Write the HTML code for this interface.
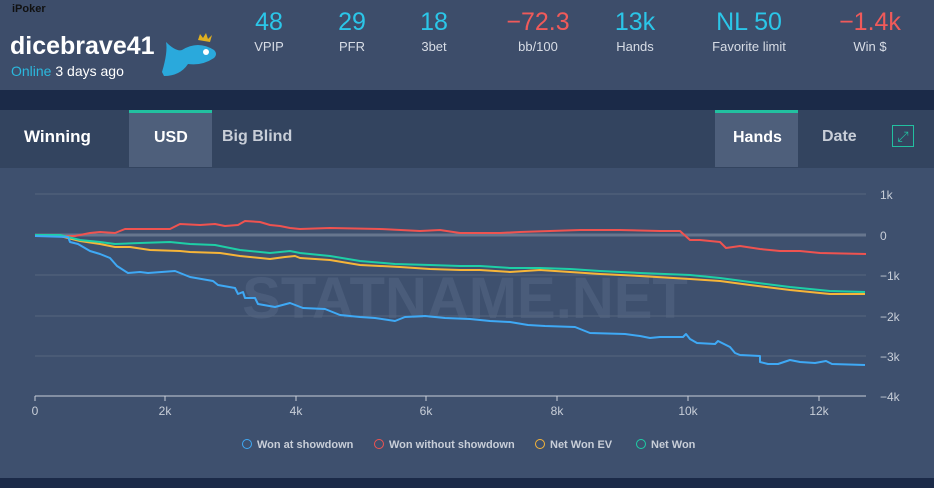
<!DOCTYPE html><html><head><style>
body{margin:0;width:934px;height:488px;overflow:hidden;background:#1b2a48;font-family:"Liberation Sans",sans-serif}
.hd{position:absolute;left:0;top:0;width:934px;height:90px;background:#3d4d6a}
.tb{position:absolute;left:0;top:110px;width:934px;height:58px;background:#33445f}
.ch{position:absolute;left:0;top:168px;width:934px;height:310px;background:#3e506e}
.st{position:absolute;top:8px;width:120px;margin-left:-60px;text-align:center}
.st .v{font-size:25px;color:#2bc6e8}
.st .l{font-size:13px;color:#d8dde6;margin-top:2px}
.r .v{color:#f05a5a}
.t{position:absolute;font-size:17px;font-weight:bold;color:#c8ced8}
</style></head><body>
<div class="hd">
<div style="position:absolute;left:12px;top:3px;font-size:11px;font-weight:bold;color:#111">iPoker</div>
<div style="position:absolute;left:10px;top:32px;font-size:25px;font-weight:bold;color:#fff">dicebrave41</div>
<div style="position:absolute;left:11px;top:63px;font-size:14px;color:#fff"><span style="color:#2bb8dd">Online</span> 3 days ago</div>
<svg style="position:absolute;left:158px;top:32px" width="66" height="48"><path d="M4 40 Q10 20 8 10 Q18 20 24 18 Q40 8 56 18 Q60 22 56 26 Q44 34 30 32 Q22 44 6 44Z" fill="#2aa9dc"/><circle cx="48" cy="20" r="3" fill="#fff"/><path d="M40 8 L42 2 L45 6 L48 1 L50 7 L54 3 L52 10Z" fill="#e0b020"/></svg>
<div class="st" style="left:269px"><div class="v">48</div><div class="l">VPIP</div></div>
<div class="st" style="left:352px"><div class="v">29</div><div class="l">PFR</div></div>
<div class="st" style="left:434px"><div class="v">18</div><div class="l">3bet</div></div>
<div class="st r" style="left:538px"><div class="v">−72.3</div><div class="l">bb/100</div></div>
<div class="st" style="left:635px"><div class="v">13k</div><div class="l">Hands</div></div>
<div class="st" style="left:749px"><div class="v">NL 50</div><div class="l">Favorite limit</div></div>
<div class="st r" style="left:870px"><div class="v">−1.4k</div><div class="l">Win $</div></div>
</div>
<div class="tb">
<div class="t" style="left:24px;top:17px;color:#fff">Winning</div>
<div style="position:absolute;left:129px;top:0;width:83px;height:57px;background:#4e5f7b;border-top:3px solid #22c0a0;box-sizing:border-box"></div>
<div class="t" style="left:154px;top:19px;color:#fff;font-size:16px">USD</div>
<div class="t" style="left:222px;top:18px;font-size:16px">Big Blind</div>
<div style="position:absolute;left:715px;top:0;width:83px;height:57px;background:#4e5f7b;border-top:3px solid #22c0a0;box-sizing:border-box"></div>
<div class="t" style="left:733px;top:19px;color:#fff;font-size:16px">Hands</div>
<div class="t" style="left:822px;top:18px;font-size:16px">Date</div>
<div style="position:absolute;left:892px;top:15px;width:22px;height:22px;border:1px solid #22c0a0;box-sizing:border-box;color:#22c0a0;font-size:14px;text-align:center;line-height:20px">⤢</div>
</div>
<div class="ch"></div>
<svg style="position:absolute;left:0;top:0" width="934" height="488" font-family="Liberation Sans, sans-serif">
<text x="465" y="318" text-anchor="middle" font-size="58" font-weight="bold" fill="#4a5c7a">STATNAME.NET</text>
<g stroke="#56667f" stroke-width="1"><line x1="35" x2="866" y1="194" y2="194"/><line x1="35" x2="866" y1="275" y2="275"/><line x1="35" x2="866" y1="316" y2="316"/><line x1="35" x2="866" y1="356" y2="356"/></g>
<line x1="35" x2="866" y1="235" y2="235" stroke="#67768e" stroke-width="3"/>
<line x1="35" x2="866" y1="396" y2="396" stroke="#c8ced8" stroke-width="1"/>
<g stroke="#c8ced8"><line x1="35" x2="35" y1="396" y2="401"/><line x1="165" x2="165" y1="396" y2="401"/><line x1="296" x2="296" y1="396" y2="401"/><line x1="426" x2="426" y1="396" y2="401"/><line x1="557" x2="557" y1="396" y2="401"/><line x1="688" x2="688" y1="396" y2="401"/><line x1="819" x2="819" y1="396" y2="401"/></g>
<g fill="#c8ced8" font-size="12" text-anchor="middle"><text x="35" y="415">0</text><text x="165" y="415">2k</text><text x="296" y="415">4k</text><text x="426" y="415">6k</text><text x="557" y="415">8k</text><text x="688" y="415">10k</text><text x="819" y="415">12k</text></g>
<g fill="#c8ced8" font-size="12"><text x="880" y="199">1k</text><text x="880" y="240">0</text><text x="880" y="280">−1k</text><text x="880" y="321">−2k</text><text x="880" y="361">−3k</text><text x="880" y="401">−4k</text></g>
<g fill="none" stroke-width="2" stroke-linejoin="round">
<polyline stroke="#ef5350" points="35,236 75,236 90,233 100,232 115,233 125,229 170,229 180,224 200,225 215,224 225,226 238,225 245,221 260,222 270,225 280,226 290,228 300,229 330,228 380,229 420,231 440,230 460,233 500,233 520,232 580,230 620,230 660,231 680,231 690,240 700,240 720,242 726,248 740,246 760,249 780,251 800,251 820,253 866,254"/>
<polyline stroke="#f7b538" points="35,235 60,236 80,241 100,244 115,247 130,247 150,250 180,251 190,252 220,253 240,256 270,259 285,257 295,256 300,258 330,260 360,265 400,267 430,269 460,270 480,270 510,272 540,270 570,272 600,274 640,276 690,279 720,281 750,285 790,290 830,294 865,294"/>
<polyline stroke="#1ecfa6" points="35,235 60,235 80,240 100,242 115,244 140,243 170,242 190,244 215,245 240,250 270,253 290,251 300,253 330,256 360,261 395,264 430,265 460,266 480,266 510,268 540,268 570,269 600,271 640,273 690,275 720,278 750,282 790,287 830,291 865,292"/>
<polyline stroke="#3fa9f5" points="35,236 68,237 70,242 78,244 90,251 100,254 110,258 117,266 128,273 140,272 148,273 175,271 190,277 213,281 218,285 235,288 238,294 243,292 245,298 255,298 258,304 275,307 290,303 303,308 325,309 340,315 360,317 375,318 395,321 405,317 425,316 445,318 470,319 490,321 510,322 528,325 545,326 575,327 590,333 625,334 640,336 650,338 660,337 683,337 686,334 690,339 697,343 715,344 718,341 730,347 735,353 740,355 760,356 760,362 768,364 778,364 790,360 800,362 815,363 826,361 832,364 865,365"/>
</g>
<g font-size="11" font-weight="bold" fill="#c8ced8">
<circle cx="247" cy="444" r="4.5" fill="none" stroke="#3fa9f5"/><text x="257" y="448">Won at showdown</text>
<circle cx="379" cy="444" r="4.5" fill="none" stroke="#ef5350"/><text x="389" y="448">Won without showdown</text>
<circle cx="540" cy="444" r="4.5" fill="none" stroke="#f7b538"/><text x="550" y="448">Net Won EV</text>
<circle cx="641" cy="444" r="4.5" fill="none" stroke="#1ecfa6"/><text x="651" y="448">Net Won</text>
</g>
</svg>
</body></html>
